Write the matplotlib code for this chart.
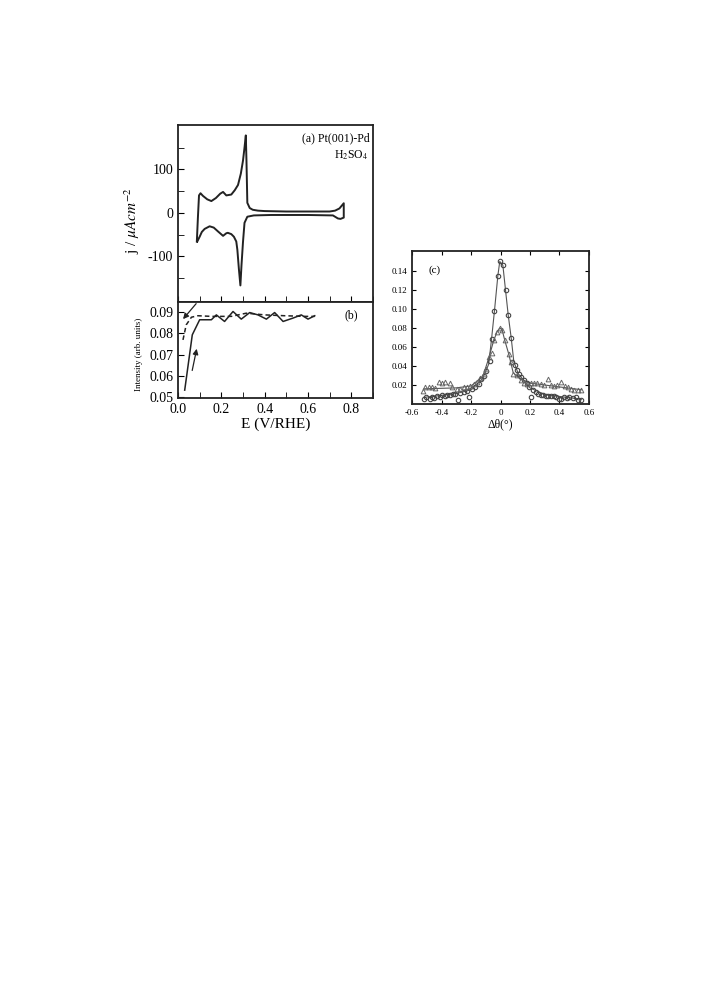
import numpy as np
import matplotlib.pyplot as plt
from matplotlib.ticker import MultipleLocator

plt.rcParams['font.family'] = ['Liberation Serif', 'DejaVu Serif']
plt.rcParams['mathtext.fontset'] = 'stix'
plt.rcParams['axes.unicode_minus'] = False

# (a) cyclic voltammogram, closed loop
E_cv = [0.087, 0.092, 0.097, 0.104, 0.115, 0.135, 0.154, 0.175, 0.195, 0.208, 0.223, 0.246,
        0.262, 0.277, 0.290, 0.300, 0.307, 0.313, 0.316, 0.320, 0.331, 0.345, 0.369, 0.40,
        0.50, 0.60, 0.70, 0.725, 0.745, 0.765, 0.765, 0.750, 0.738, 0.715, 0.60, 0.50, 0.43,
        0.35, 0.320, 0.307, 0.300, 0.293, 0.288, 0.281, 0.274, 0.269, 0.258, 0.246, 0.230,
        0.223, 0.208, 0.185, 0.165, 0.146, 0.123, 0.110, 0.100, 0.089]
j_cv = [-66, -10, 40, 45, 39, 31, 27, 34, 44, 48, 40, 42, 52, 64, 90, 120, 150, 178, 120,
        23, 11, 7, 5, 4, 3, 3, 3, 5, 10, 22, -11, -14, -13, -6, -5, -5, -5, -6, -9, -23,
        -67, -121, -167, -129, -85, -66, -55, -49, -46, -47, -53, -43, -34, -31, -37, -44,
        -55, -66]

# (b) intensity vs potential
E_up = [0.031, 0.066, 0.100, 0.154, 0.177, 0.215, 0.254, 0.292, 0.331, 0.369, 0.408,
        0.446, 0.485, 0.531, 0.569, 0.600, 0.631]
I_up = [0.0532, 0.0793, 0.0864, 0.0864, 0.0887, 0.0856, 0.0903, 0.0867, 0.0898, 0.0887,
        0.0867, 0.0898, 0.0856, 0.0872, 0.0887, 0.0867, 0.0883]
E_down = [0.023, 0.038, 0.062, 0.092, 0.154, 0.246, 0.315, 0.400, 0.492, 0.585, 0.631]
I_down = [0.0769, 0.0840, 0.0876, 0.0883, 0.0880, 0.0880, 0.0895, 0.0887, 0.0883, 0.0880,
          0.0880]

# (c) rocking scans
th_circ = [-0.520, -0.502, -0.480, -0.466, -0.450, -0.430, -0.413, -0.397, -0.375, -0.360,
           -0.340, -0.323, -0.307, -0.290, -0.273, -0.250, -0.227, -0.216, -0.193, -0.170,
           -0.148, -0.130, -0.114, -0.095, -0.073, -0.061, -0.041, -0.018, -0.005, 0.016,
           0.034, 0.052, 0.073, 0.080, 0.095, 0.109, 0.125, 0.140, 0.159, 0.177, 0.193,
           0.209, 0.223, 0.239, 0.255, 0.273, 0.290, 0.307, 0.323, 0.340, 0.360, 0.375,
           0.397, 0.413, 0.430, 0.450, 0.466, 0.490, 0.511, 0.527, 0.545]
I_circ = [0.005, 0.007, 0.005, 0.0075, 0.006, 0.008, 0.0075, 0.009, 0.008, 0.009, 0.010,
          0.011, 0.011, 0.004, 0.012, 0.013, 0.0135, 0.007, 0.016, 0.018, 0.021, 0.026,
          0.030, 0.035, 0.045, 0.068, 0.098, 0.135, 0.150, 0.146, 0.120, 0.094, 0.069,
          0.0445, 0.041, 0.036, 0.032, 0.028, 0.025, 0.022, 0.018, 0.007, 0.0145, 0.0125,
          0.011, 0.010, 0.009, 0.008, 0.008, 0.008, 0.008, 0.0075, 0.005, 0.005, 0.007,
          0.006, 0.007, 0.006, 0.007, 0.004, 0.004]
th_tri = [-0.527, -0.511, -0.488, -0.466, -0.443, -0.420, -0.397, -0.375, -0.345, -0.330,
          -0.295, -0.273, -0.250, -0.227, -0.205, -0.182, -0.160, -0.136, -0.114, -0.095,
          -0.080, -0.057, -0.046, -0.023, -0.005, 0.011, 0.029, 0.057, 0.073, 0.086, 0.114,
          0.136, 0.159, 0.182, 0.205, 0.227, 0.250, 0.273, 0.295, 0.323, 0.340, 0.360,
          0.386, 0.413, 0.436, 0.459, 0.480, 0.500, 0.525, 0.545]
I_tri = [0.0137, 0.018, 0.018, 0.0175, 0.017, 0.0235, 0.022, 0.0235, 0.022, 0.018, 0.016,
         0.016, 0.018, 0.018, 0.019, 0.021, 0.023, 0.027, 0.032, 0.037, 0.050, 0.054, 0.067,
         0.076, 0.080, 0.078, 0.067, 0.053, 0.044, 0.032, 0.0305, 0.0255, 0.022, 0.0215,
         0.022, 0.022, 0.022, 0.021, 0.020, 0.026, 0.020, 0.019, 0.020, 0.0235, 0.019, 0.018,
         0.016, 0.015, 0.0145, 0.0145]
# guide lines drawn through the scans
fit_c_x = [-0.52, -0.30, -0.20, -0.12, -0.08, -0.061, -0.041, -0.018, -0.005, 0.016, 0.034,
           0.052, 0.073, 0.09, 0.12, 0.20, 0.30, 0.55]
fit_c_y = [0.007, 0.011, 0.015, 0.027, 0.042, 0.068, 0.098, 0.135, 0.150, 0.146, 0.120,
           0.094, 0.069, 0.045, 0.032, 0.017, 0.010, 0.005]
fit_t_x = [-0.52, -0.30, -0.20, -0.12, -0.08, -0.046, -0.023, -0.005, 0.011, 0.029, 0.057,
           0.086, 0.12, 0.20, 0.30, 0.55]
fit_t_y = [0.016, 0.017, 0.019, 0.029, 0.048, 0.067, 0.076, 0.080, 0.078, 0.067, 0.052,
           0.033, 0.028, 0.022, 0.020, 0.015]

col = '#222222'
fig = plt.figure(figsize=(7.25, 9.91), dpi=100)

axa = fig.add_axes([0.2455, 0.6953, 0.269, 0.1786])
axb = fig.add_axes([0.2455, 0.5984, 0.269, 0.0969])
axc = fig.add_axes([0.5683, 0.5923, 0.2441, 0.1544])

for ax in (axa, axb, axc):
    for s in ax.spines.values():
        s.set_linewidth(1.3)
        s.set_color(col)

# panel a
axa.plot(E_cv, j_cv, color=col, lw=1.4)
axa.set_xlim(0, 0.9)
axa.set_ylim(-205, 202)
axa.set_yticks([-100, 0, 100])
axa.set_yticks([-150, -50, 50, 150], minor=True)
axa.xaxis.set_major_locator(MultipleLocator(0.2))
axa.xaxis.set_minor_locator(MultipleLocator(0.1))
axa.tick_params(axis='x', which='both', direction='in', labelbottom=False, length=4)
axa.tick_params(axis='y', which='both', direction='in', labelsize=10, length=4)
axa.set_ylabel(r'j / $\mu Acm^{-2}$', fontsize=11)
axa.yaxis.set_label_coords(-0.185, 0.46)
axa.text(0.73, 165, '(a) Pt(001)-Pd', fontsize=8.5, ha='center')
axa.text(0.80, 126, r'H$_2$SO$_4$', fontsize=8.5, ha='center')

# panel b
axb.plot(E_up, I_up, color=col, lw=1.1)
axb.plot(E_down, I_down, color=col, lw=1.1, ls=(0, (3, 2)))
axb.set_xlim(0, 0.9)
axb.set_ylim(0.0495, 0.0948)
axb.yaxis.set_major_locator(MultipleLocator(0.01))
axb.xaxis.set_major_locator(MultipleLocator(0.2))
axb.xaxis.set_minor_locator(MultipleLocator(0.1))
axb.yaxis.set_major_formatter(plt.FormatStrFormatter('%.2f'))
axb.tick_params(which='both', direction='in', labelsize=10, length=4)
axb.set_xlabel('E (V/RHE)', fontsize=11, labelpad=1)
axb.set_ylabel('Intensity (arb. units)', fontsize=6.5)
axb.yaxis.set_label_coords(-0.18, 0.45)
axb.text(0.80, 0.0885, '(b)', fontsize=8.5, ha='center', va='center')
axb.annotate('', xy=(0.015, 0.0857), xytext=(0.092, 0.0950),
             arrowprops=dict(arrowstyle='-|>', color=col, lw=0.9, mutation_scale=8))
axb.annotate('', xy=(0.089, 0.0740), xytext=(0.063, 0.0612),
             arrowprops=dict(arrowstyle='-|>', color=col, lw=0.9, mutation_scale=8))

# panel c
axc.plot(fit_c_x, fit_c_y, color='#555555', lw=0.8)
axc.plot(fit_t_x, fit_t_y, color='#555555', lw=0.8)
axc.plot(th_circ, I_circ, ls='none', marker='o', ms=3.2, mfc='none', mec='#444444', mew=0.8)
axc.plot(th_tri, I_tri, ls='none', marker='^', ms=3.4, mfc='none', mec='#666666', mew=0.7)
axc.set_xlim(-0.6, 0.6)
axc.set_ylim(0.0, 0.161)
axc.set_yticks([0.02, 0.04, 0.06, 0.08, 0.10, 0.12, 0.14])
axc.set_xticks([-0.6, -0.4, -0.2, 0.0, 0.2, 0.4, 0.6])
axc.set_xticklabels(['-0.6', '-0.4', '-0.2', '0', '0.2', '0.4', '0.6'])
axc.yaxis.set_major_formatter(plt.FormatStrFormatter('%.2f'))
axc.tick_params(which='both', direction='in', labelsize=6.5, length=3,
                top=True, right=True)
axc.set_xlabel('Δθ(°)', fontsize=8.5, labelpad=1)
axc.text(-0.45, 0.141, '(c)', fontsize=8, ha='center', va='center')

fig.savefig('out.png', dpi=100)
